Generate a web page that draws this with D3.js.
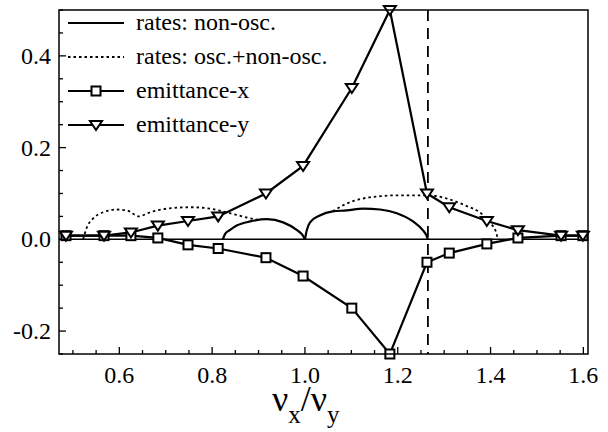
<!DOCTYPE html>
<html><head><meta charset="utf-8">
<script src="https://cdn.jsdelivr.net/npm/d3@7"></script>
<style>
html,body{margin:0;background:#fff}
svg text, svg tspan{font-family:"Liberation Serif" !important}
</style>
</head><body>
<svg id="c" width="608" height="432" style="display:block"><style>text{font-family:"Liberation Serif" !important}</style></svg>
<script>
// ---- data ----
const emitX_tune = [0.485,0.567,0.625,0.683,0.748,0.813,0.916,0.996,1.101,1.183,1.263,1.311,1.392,1.459,1.552,1.599];
const emitY_vals = [0.008,0.008,0.015,0.03,0.04,0.05,0.10,0.16,0.33,0.50,0.10,0.07,0.04,0.02,0.008,0.008];
const emitX_vals = [0.008,0.008,0.008,0.003,-0.012,-0.02,-0.04,-0.08,-0.15,-0.25,-0.05,-0.03,-0.01,0.003,0.008,0.008];

const nonOsc1_x = [0.823,0.828,0.838,0.853,0.882,0.918,0.953,0.983,0.995,1.0];
const nonOsc1_y = [0,0.012,0.02,0.03,0.039,0.044,0.037,0.02,0.009,0];
const nonOsc2_x = [1.0,1.004,1.011,1.032,1.06,1.09,1.125,1.162,1.198,1.233,1.254,1.262,1.265];
const nonOsc2_y = [0,0.02,0.037,0.052,0.061,0.063,0.067,0.065,0.057,0.039,0.02,0.008,0];

const total1_x = [0.522,0.53,0.543,0.565,0.595,0.617,0.642,0.666,0.703,0.752,0.795,0.838,0.882,0.9];
const total1_y = [0,0.026,0.045,0.059,0.065,0.063,0.05,0.059,0.067,0.07,0.067,0.057,0.046,0.042];
const total2_x = [1.06,1.09,1.125,1.162,1.198,1.233,1.265,1.306,1.35,1.375,1.39,1.403,1.412,1.416];
const total2_y = [0.061,0.078,0.089,0.094,0.096,0.096,0.096,0.089,0.072,0.06,0.047,0.032,0.015,0];

const resonanceX = 1.265;
const xTicksMajor = [0.6,0.8,1.0,1.2,1.4,1.6];
const yTicksMajor = [-0.2,0.0,0.2,0.4];
const legendLabels = ["rates: non-osc.","rates: osc.+non-osc.","emittance-x","emittance-y"];

// ---- layout ----
const L=59,R=588,T=10,B=354;
const svg=d3.select("#c");
const x=d3.scaleLinear().domain([0.47,1.61]).range([L,R]);
const y=d3.scaleLinear().domain([-0.25,0.5]).range([B,T]);

const zip=(a,b)=>a.map((v,i)=>[v,b[i]]);
const line=d3.line().x(d=>x(d[0])).y(d=>y(d[1]));
const smooth=d3.line().x(d=>x(d[0])).y(d=>y(d[1])).curve(d3.curveMonotoneX);
function txt(g,size){return g.append("text").attr("font-family","Liberation Serif").attr("font-size",size).style("font-size",size+"px").attr("fill","#000");}

// zero line
svg.append("line").attr("x1",L).attr("x2",R).attr("y1",y(0)).attr("y2",y(0)).attr("stroke","#000").attr("stroke-width",1.5);
// resonance dashed
svg.append("line").attr("x1",x(resonanceX)).attr("x2",x(resonanceX)).attr("y1",T).attr("y2",B).attr("stroke","#000").attr("stroke-width",1.8).attr("stroke-dasharray","11,7");

// curves
svg.append("path").attr("d",smooth(zip(total1_x,total1_y))).attr("fill","none").attr("stroke","#000").attr("stroke-width",1.8).attr("stroke-dasharray","2.5,3");
svg.append("path").attr("d",smooth(zip(total2_x,total2_y))).attr("fill","none").attr("stroke","#000").attr("stroke-width",1.8).attr("stroke-dasharray","2.5,3");
svg.append("path").attr("d",smooth(zip(nonOsc1_x,nonOsc1_y))).attr("fill","none").attr("stroke","#000").attr("stroke-width",2.2);
svg.append("path").attr("d",smooth(zip(nonOsc2_x,nonOsc2_y))).attr("fill","none").attr("stroke","#000").attr("stroke-width",2.2);

// emittance lines
const ex=zip(emitX_tune,emitX_vals), ey=zip(emitX_tune,emitY_vals);
svg.append("path").attr("d",line(ex)).attr("fill","none").attr("stroke","#000").attr("stroke-width",2.2);
svg.append("path").attr("d",line(ey)).attr("fill","none").attr("stroke","#000").attr("stroke-width",2.2);

function square(g,cx,cy){g.append("rect").attr("x",cx-4.5).attr("y",cy-4.5).attr("width",9).attr("height",9).attr("fill","#fff").attr("stroke","#000").attr("stroke-width",2);}
function tri(g,cx,cy){g.append("path").attr("d",`M${cx-6},${cy-4}L${cx+6},${cy-4}L${cx},${cy+5}Z`).attr("fill","#fff").attr("stroke","#000").attr("stroke-width",2).attr("stroke-linejoin","miter");}
const mk=svg.append("g");
ex.forEach(d=>square(mk,x(d[0]),y(d[1])));
ey.forEach(d=>tri(mk,x(d[0]),y(d[1])));

// frame
svg.append("rect").attr("x",L).attr("y",T).attr("width",R-L).attr("height",B-T).attr("fill","none").attr("stroke","#000").attr("stroke-width",1.5);

// ticks
const xt=d3.range(0.5,1.6001,0.05);
xt.forEach(v=>{const maj=xTicksMajor.some(m=>Math.abs(m-v)<1e-6);
 svg.append("line").attr("x1",x(v)).attr("x2",x(v)).attr("y1",B).attr("y2",B-(maj?7:4)).attr("stroke","#000").attr("stroke-width",1.3);});
const yt=d3.range(-0.25,0.5001,0.05);
yt.forEach(v=>{const maj=yTicksMajor.some(m=>Math.abs(m-v)<1e-6);
 svg.append("line").attr("x1",L).attr("x2",L+(maj?7:4)).attr("y1",y(v)).attr("y2",y(v)).attr("stroke","#000").attr("stroke-width",1.3);});
xTicksMajor.forEach(v=>txt(svg,24).attr("x",x(v)).attr("y",383).attr("text-anchor","middle").text(d3.format(".1f")(v)));
yTicksMajor.forEach(v=>txt(svg,24).attr("x",51).attr("y",y(v)+8).attr("text-anchor","end").text(d3.format(".1f")(v).replace("−","-")));

// axis title
const tt=txt(svg,36).attr("x",272).attr("y",411);
tt.append("tspan").text("ν");
tt.append("tspan").style("font-size","25px").attr("dy",12).text("x");
tt.append("tspan").style("font-size","36px").attr("dy",-12).text("/ν");
tt.append("tspan").style("font-size","25px").attr("dy",12).text("y");

// legend
const ly=[23,57,91,125];
legendLabels.forEach((lab,i)=>{
 const ln=svg.append("line").attr("x1",68).attr("x2",124).attr("y1",ly[i]).attr("y2",ly[i]).attr("stroke","#000").attr("stroke-width",i===1?1.8:2.2);
 if(i===1) ln.attr("stroke-dasharray","2.5,3");
 if(i===2) square(svg,96,ly[i]);
 if(i===3) tri(svg,96,ly[i]);
 txt(svg,24).attr("x",136).attr("y",ly[i]+7).text(lab);
});
</script>
</body></html>
